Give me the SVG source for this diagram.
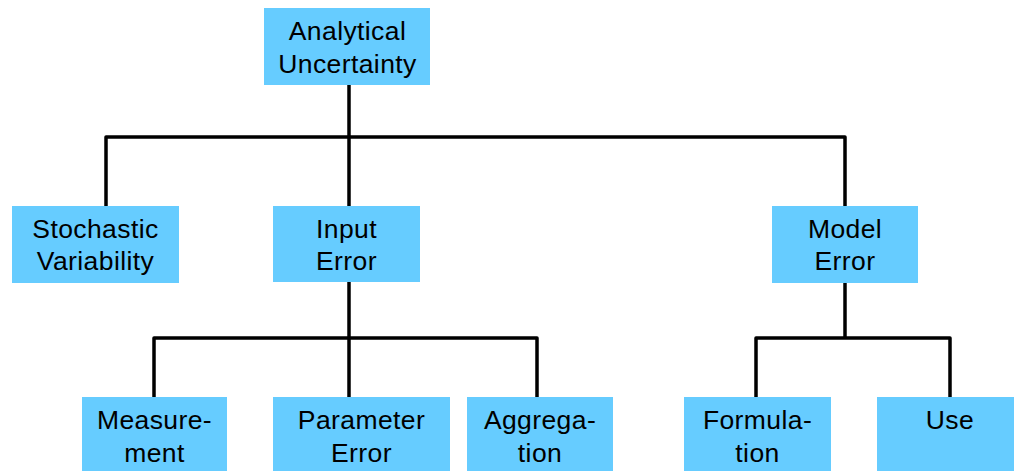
<svg xmlns="http://www.w3.org/2000/svg" width="1014" height="471" viewBox="0 0 1014 471">
  <style>
    .box { fill: #66CCFF; }
    .lbl { font-family: "Liberation Sans", Arial, sans-serif; font-size: 26.5px; letter-spacing: 0.4px; fill: #000; text-anchor: middle; }
    .wire { fill: none; stroke: #000; stroke-width: 3.5; stroke-linejoin: round; }
  </style>
  <rect width="1014" height="471" fill="#fff"/>

  <!-- tree connectors -->
  <g id="connectors">
    <path class="wire" d="M349,85 V206"/>
    <path class="wire" d="M106,206 V137 H845 V206"/>
    <path class="wire" d="M349,282 V397"/>
    <path class="wire" d="M154,397 V338 H537 V397"/>
    <path class="wire" d="M845,283 V338"/>
    <path class="wire" d="M756,397 V338 H950 V397"/>
  </g>

  <g id="analytical-uncertainty">
    <rect class="box" x="264" y="8" width="166" height="77"/>
    <text class="lbl" x="347.5" y="40">Analytical</text>
    <text class="lbl" x="347.5" y="73">Uncertainty</text>
  </g>

  <g id="stochastic-variability">
    <rect class="box" x="12" y="206" width="167" height="77"/>
    <text class="lbl" x="95.5" y="238">Stochastic</text>
    <text class="lbl" x="95.5" y="270">Variability</text>
  </g>

  <g id="input-error">
    <rect class="box" x="273" y="206" width="147" height="76"/>
    <text class="lbl" x="346.5" y="238">Input</text>
    <text class="lbl" x="346.5" y="270">Error</text>
  </g>

  <g id="model-error">
    <rect class="box" x="772" y="206" width="146" height="77"/>
    <text class="lbl" x="845" y="238">Model</text>
    <text class="lbl" x="845" y="270">Error</text>
  </g>

  <g id="measurement">
    <rect class="box" x="82" y="397" width="145" height="78"/>
    <text class="lbl" x="154.5" y="429">Measure-</text>
    <text class="lbl" x="154.5" y="462">ment</text>
  </g>

  <g id="parameter-error">
    <rect class="box" x="273" y="397" width="177" height="78"/>
    <text class="lbl" x="361.5" y="429">Parameter</text>
    <text class="lbl" x="361.5" y="462">Error</text>
  </g>

  <g id="aggregation">
    <rect class="box" x="467" y="397" width="146" height="78"/>
    <text class="lbl" x="540" y="429">Aggrega-</text>
    <text class="lbl" x="540" y="462">tion</text>
  </g>

  <g id="formulation">
    <rect class="box" x="684" y="397" width="147" height="78"/>
    <text class="lbl" x="757.5" y="429">Formula-</text>
    <text class="lbl" x="757.5" y="462">tion</text>
  </g>

  <g id="use">
    <rect class="box" x="877" y="397" width="146" height="78"/>
    <text class="lbl" x="950" y="429">Use</text>
  </g>
</svg>
